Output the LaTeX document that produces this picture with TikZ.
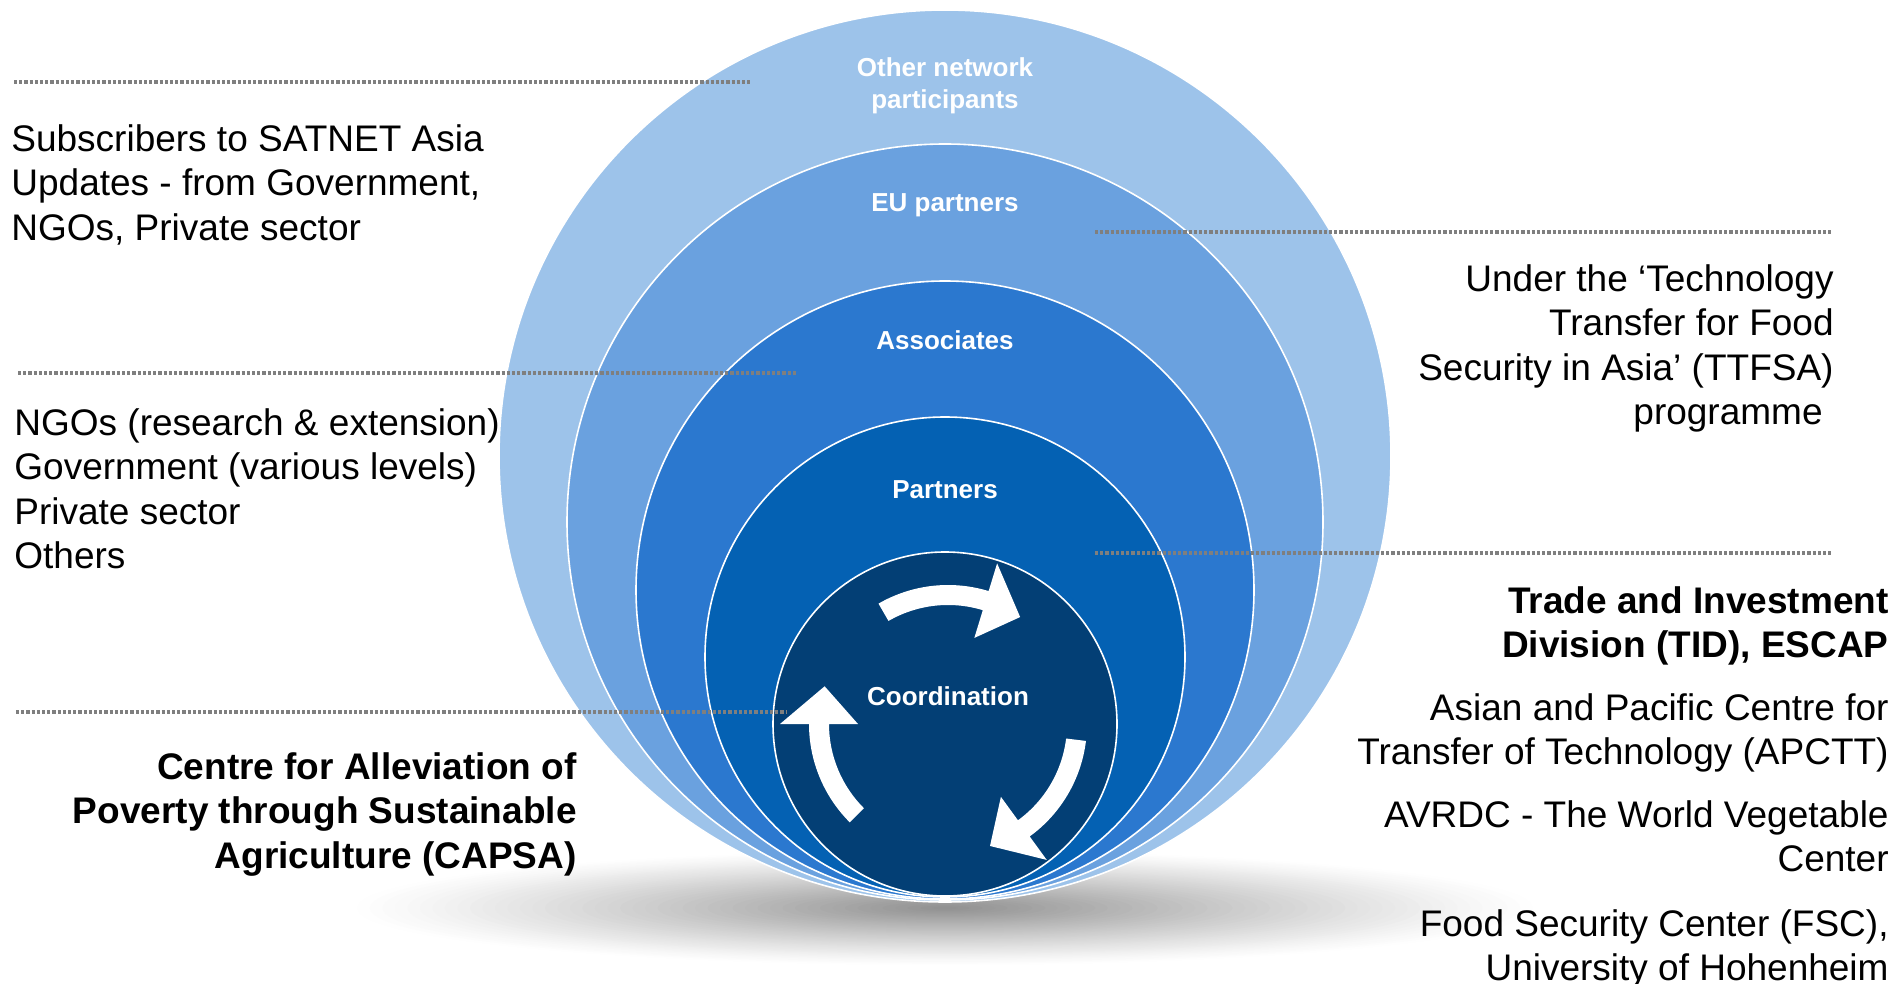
\documentclass[tikz,border=0pt]{standalone}
\usepackage{fontspec}
\setmainfont{Liberation Sans}
\definecolor{ringA}{HTML}{9DC3EA}
\definecolor{ringB}{HTML}{6AA1DF}
\definecolor{ringC}{HTML}{2B78CF}
\definecolor{ringD}{HTML}{0461B3}
\definecolor{ringE}{HTML}{033F75}
\definecolor{dotgray}{HTML}{7F7F7F}
\newcommand{\cycarrow}[3]{%
  \fill[white] (#1:139) arc[start angle=#1, end angle=#2, radius=139]
    -- (#2:168) -- (#3:129) -- (#2:90) -- (#2:119)
    arc[start angle=#2, end angle=#1, radius=119] -- cycle;}
\begin{document}
\begin{tikzpicture}[x=0.5pt,y=-0.5pt,
  ring/.style={draw=white, line width=0.8pt},
  dotline/.style={draw=dotgray, line width=1.6pt, dash pattern=on 1.6pt off 1pt},
  lbl/.style={text=white, font=\fontsize{13}{16.25}\selectfont\bfseries, align=center, inner sep=0},
  txt/.style={font=\fontsize{18.5}{22.25}\selectfont, inner sep=0},
  txtb/.style={font=\fontsize{18.5}{22.25}\selectfont\bfseries, inner sep=0}]
\useasboundingbox[fill=white] (0,0) rectangle (1897,984);
% floor shadow: stacked ellipses, light outside to dark inside
\foreach \k in {0,...,47}{%
  \pgfmathsetmacro{\rho}{1-\k/48}%
  \pgfmathsetmacro{\dk}{44*(1-\rho)^1.15}%
  \fill[black!\dk] (945,908) ellipse [x radius={600*\rho}, y radius={58*\rho}];
}
% rings
\filldraw[ring, fill=ringA] (945,456) circle (446);
\filldraw[ring, fill=ringB] (945,522) circle (378);
\filldraw[ring, fill=ringC] (945,590) circle (309);
\filldraw[ring, fill=ringD] (945,657) circle (240);
\filldraw[ring, fill=ringE] (945,724) circle (172);
% dotted leader lines
\coordinate (l1a) at (14,82);   \coordinate (l1b) at (750,82);
\coordinate (l2a) at (1095,232); \coordinate (l2b) at (1831,232);
\coordinate (l3a) at (18,373);  \coordinate (l3b) at (796,373);
\coordinate (l4a) at (1095,553); \coordinate (l4b) at (1831,553);
\coordinate (l5a) at (16,712);  \coordinate (l5b) at (787,712);
\draw[dotline] (l1a) -- (l1b);
\draw[dotline] (l2a) -- (l2b);
\draw[dotline] (l3a) -- (l3b);
\draw[dotline] (l4a) -- (l4b);
\draw[dotline] (l5a) -- (l5b);
% cycle arrows
\begin{scope}[shift={(948,724)}]
\cycarrow{-120}{-73}{-56}
\cycarrow{7}{54}{71}
\cycarrow{135}{180}{197}
\end{scope}
% ring labels
\node[lbl] (other) at (945,86) {Other network\\participants};
\node[lbl] (eu) at (945,205) {EU partners};
\node[lbl] (assoc) at (945,340) {Associates};
\node[lbl] (partn) at (945,490) {Partners};
\node[lbl] (coord) at (948,696) {Coordination};
% side texts
\node[txt, anchor=north west, align=left] (subs) at (11,124)
  {Subscribers to SATNET Asia\\Updates - from Government,\\NGOs, Private sector};
\node[txt, anchor=north west, align=left] (assocs) at (14,408)
  {NGOs (research \& extension)\\Government (various levels)\\Private sector\\Others};
\node[txtb, anchor=north east, align=right] (capsa) at (577,752)
  {Centre for Alleviation of\\Poverty through Sustainable\\Agriculture (CAPSA)};
\node[txt, anchor=north east, align=right] (ttfsa) at (1834,264)
  {Under the ‘Technology\\Transfer for Food\\Security in Asia’ (TTFSA)\\programme\hspace*{5.5pt}};
\node[txtb, anchor=north east, align=right] (tid) at (1889,586)
  {Trade and Investment\\Division (TID), ESCAP};
\node[txt, anchor=north east, align=right] (apctt) at (1889,693)
  {Asian and Pacific Centre for\\Transfer of Technology (APCTT)};
\node[txt, anchor=north east, align=right] (avrdc) at (1889,800)
  {AVRDC - The World Vegetable\\Center};
\node[txt, anchor=north east, align=right] (fsc) at (1889,909)
  {Food Security Center (FSC),\\University of Hohenheim};
\end{tikzpicture}
\end{document}
